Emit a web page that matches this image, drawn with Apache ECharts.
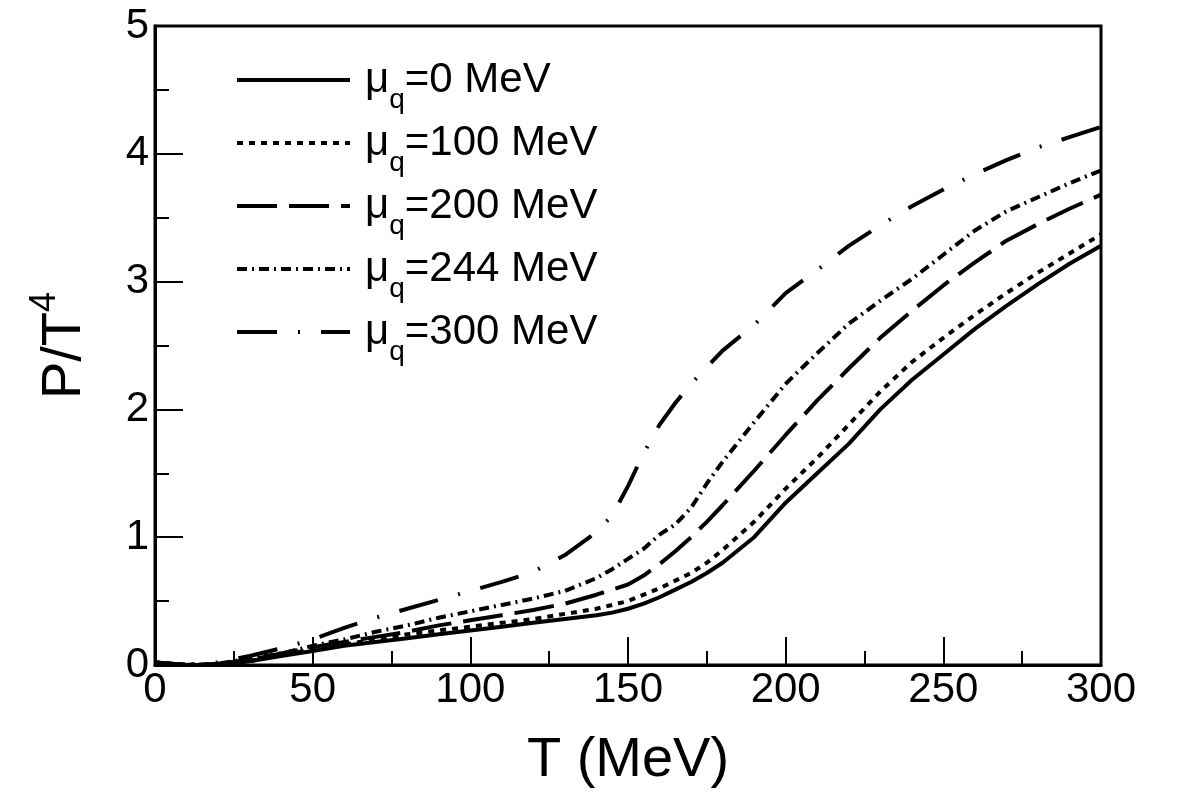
<!DOCTYPE html>
<html>
<head>
<meta charset="utf-8">
<title>P/T4 vs T</title>
<script src="https://cdn.jsdelivr.net/npm/echarts@6/dist/echarts.min.js"></script>
<style>
html, body { margin: 0; padding: 0; background: #fff; }
#chart { width: 1182px; height: 800px; }
</style>
</head>
<body>
<div id="chart"></div>
<script>
// temperature grid (MeV), shared by every curve
var temps = [0, 10, 20, 30, 40, 50, 60, 70, 80, 90, 100, 110, 120, 130, 140, 145, 150, 155, 160, 165, 170, 175, 180,
    190, 200, 210, 220, 230, 240, 250, 260, 270, 280, 290, 300];

// P/T^4, one array per chemical potential
var mu0 = [0.02, 0.0, 0.0, 0.03, 0.07, 0.11, 0.15, 0.18, 0.21, 0.24, 0.27, 0.30, 0.33, 0.36, 0.39, 0.41, 0.44, 0.48, 0.53, 0.59, 0.65, 0.72, 0.80,
    1.0, 1.27, 1.50, 1.73, 2.0, 2.23, 2.43, 2.63, 2.81, 2.98, 3.14, 3.28];
var mu100 = [0.02, 0.0, 0.0, 0.03, 0.08, 0.12, 0.16, 0.20, 0.24, 0.27, 0.30, 0.33, 0.36, 0.40, 0.44, 0.47, 0.50, 0.55, 0.60, 0.66, 0.72, 0.80, 0.90,
    1.12, 1.38, 1.62, 1.88, 2.14, 2.37, 2.56, 2.74, 2.91, 3.07, 3.22, 3.37];
var mu200 = [0.02, 0.0, 0.01, 0.04, 0.09, 0.14, 0.18, 0.22, 0.26, 0.31, 0.35, 0.39, 0.43, 0.48, 0.55, 0.59, 0.63, 0.70, 0.79, 0.89, 1.0, 1.12, 1.25,
    1.52, 1.80, 2.07, 2.32, 2.56, 2.77, 2.97, 3.15, 3.32, 3.45, 3.57, 3.68];
var mu244 = [0.02, 0.0, 0.01, 0.05, 0.09, 0.15, 0.20, 0.26, 0.31, 0.37, 0.42, 0.47, 0.52, 0.58, 0.68, 0.75, 0.83, 0.91, 1.02, 1.10, 1.23, 1.42, 1.59,
    1.90, 2.20, 2.44, 2.67, 2.85, 3.02, 3.21, 3.40, 3.55, 3.66, 3.77, 3.87];
var mu300 = [0.02, 0.0, 0.02, 0.07, 0.13, 0.20, 0.29, 0.37, 0.44, 0.51, 0.58, 0.65, 0.73, 0.86, 1.04, 1.17, 1.40, 1.66, 1.88, 2.05, 2.20, 2.33, 2.46,
    2.66, 2.91, 3.09, 3.28, 3.44, 3.59, 3.72, 3.84, 3.95, 4.05, 4.13, 4.21];

var muLabels = ['0', '100', '200', '244', '300'];
var curves = [mu0, mu100, mu200, mu244, mu300];
var dashes = ['solid', [6, 6], [40, 12], [10, 5, 2, 5], [40, 21, 2, 21]];

var FONT = 'Liberation Sans';

function pairs(xs, ys) {
    var out = [];
    for (var i = 0; i < xs.length; i++) {
        out.push([xs[i], ys[i]]);
    }
    return out;
}

var series = [];
for (var k = 0; k < curves.length; k++) {
    series.push({
        name: 'μq=' + muLabels[k] + ' MeV',
        type: 'line',
        data: pairs(temps, curves[k]),
        showSymbol: false,
        symbol: 'none',
        color: '#000',
        lineStyle: {color: '#000', width: 4, type: dashes[k]}
    });
}

var option = {
    animation: false,
    backgroundColor: '#fff',
    grid: {
        left: 155, right: 81, top: 26, bottom: 135,
        show: true, borderColor: '#000', borderWidth: 3
    },
    legend: {
        orient: 'vertical',
        left: 235, top: 46,
        padding: 0,
        itemGap: -5,
        itemWidth: 113,
        itemHeight: 14,
        itemStyle: {opacity: 0},  // hide the circle drawn on line icons
        lineStyle: {color: '#000', width: 4},
        formatter: function (name) {
            return '{m|μ}{s|q}{t|' + name.slice(2) + '}';
        },
        textStyle: {
            color: '#000',
            fontFamily: FONT,
            rich: {
                m: {fontFamily: FONT, fontSize: 42, lineHeight: 44, color: '#000', padding: [0, 0, 0, 10]},
                s: {fontFamily: FONT, fontSize: 28, lineHeight: 22, color: '#000', padding: [40, 0, 0, 0]},
                t: {fontFamily: FONT, fontSize: 42, lineHeight: 44, color: '#000'}
            }
        },
        data: series.map(function (s) { return s.name; })
    },
    xAxis: {
        type: 'value',
        min: 0, max: 300, interval: 50,
        name: 'T (MeV)',
        nameLocation: 'middle',
        nameGap: 68,
        nameTextStyle: {fontFamily: FONT, fontSize: 56, color: '#000'},
        axisLine: {lineStyle: {color: '#000', width: 3}},
        axisTick: {inside: true, length: 28, lineStyle: {color: '#000', width: 2}},
        minorTick: {show: true, splitNumber: 2, length: 14, lineStyle: {color: '#000', width: 2}},
        axisLabel: {fontFamily: FONT, fontSize: 42, color: '#000', margin: 4},
        splitLine: {show: false}
    },
    yAxis: {
        type: 'value',
        min: 0, max: 5, interval: 1,
        name: '{a|P/T}{b|4}',
        nameLocation: 'middle',
        nameGap: 60,
        nameTextStyle: {
            rich: {
                a: {fontFamily: FONT, fontSize: 56, lineHeight: 60, color: '#000'},
                b: {fontFamily: FONT, fontSize: 36, lineHeight: 36, color: '#000', padding: [0, 0, 40, 0]}
            }
        },
        axisLine: {lineStyle: {color: '#000', width: 3}},
        axisTick: {inside: true, length: 28, lineStyle: {color: '#000', width: 2}},
        minorTick: {show: true, splitNumber: 2, length: 14, lineStyle: {color: '#000', width: 2}},
        axisLabel: {fontFamily: FONT, fontSize: 42, color: '#000', margin: 6},
        splitLine: {show: false}
    },
    series: series
};

var chart = echarts.init(document.getElementById('chart'));
chart.setOption(option);
</script>
</body>
</html>
